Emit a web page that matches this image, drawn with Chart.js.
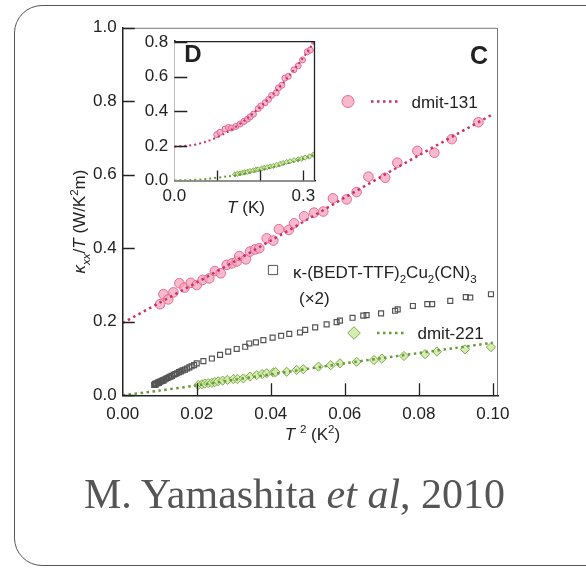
<!DOCTYPE html>
<html><head><meta charset="utf-8">
<script src="https://cdn.jsdelivr.net/npm/chart.js@4/dist/chart.umd.min.js"></script>
<style>
html,body{margin:0;padding:0;background:#fff;width:586px;height:569px;overflow:hidden;position:relative;}
#frame{position:absolute;left:14px;top:5px;width:640px;height:561px;border:1.5px solid #555;border-radius:28px;box-sizing:border-box;}
#main{position:absolute;left:0;top:0;}
#inset{position:absolute;left:120px;top:25px;}
#cap{position:absolute;left:0;width:589px;top:473px;text-align:center;font-family:"Liberation Serif","Times New Roman",serif;font-size:42px;line-height:42px;color:#555;white-space:nowrap;}
</style></head>
<body>
<div id="frame"></div>
<canvas id="main" width="586" height="569"></canvas>
<canvas id="inset" width="220" height="200"></canvas>
<div id="cap">M. Yamashita <i>et al</i>, 2010</div>
<script>
// ---------- tick labels ----------
const xTicksMain = [0, 0.02, 0.04, 0.06, 0.08, 0.10];
const yTicksMain = [0, 0.2, 0.4, 0.6, 0.8, 1.0];
const xTicksInset = [0, 0.1, 0.2, 0.3];
const xLabelsInset = ['0.0', '', '', '0.3'];
const yTicksInset = [0, 0.2, 0.4, 0.6, 0.8];

// ---------- main panel (C): kappa/T vs T^2 ----------
const t2_131 = [0.0101,0.0110,0.0123,0.0137,0.0153,0.0167,0.0184,0.0200,0.0216,0.0234,0.0249,0.0265,0.0281,0.0295,0.0308,0.0315,0.0333,0.0344,0.0358,0.0369,0.0389,0.0407,0.0422,0.0449,0.0463,0.0490,0.0517,0.0542,0.0568,0.0605,0.0632,0.0664,0.0709,0.0742,0.0796,0.0842,0.0889,0.0961];
const k_131  = [0.248,0.275,0.261,0.280,0.305,0.293,0.306,0.300,0.314,0.318,0.338,0.332,0.355,0.359,0.364,0.379,0.370,0.391,0.397,0.400,0.427,0.421,0.452,0.450,0.468,0.487,0.497,0.500,0.536,0.533,0.553,0.595,0.592,0.633,0.665,0.660,0.697,0.743];
const t2_fit131 = [0,0.01,0.02,0.03,0.04,0.05,0.06,0.07,0.08,0.09,0.10];
const k_fit131  = [0.197,0.252,0.307,0.363,0.421,0.479,0.538,0.596,0.653,0.709,0.765];

const t2_bedt = [0.0085,0.0087,0.0089,0.0091,0.0094,0.0096,0.0098,0.0100,0.0103,0.0106,0.0108,0.0110,0.0113,0.0117,0.0121,0.0125,0.0129,0.0133,0.0138,0.0142,0.0147,0.0152,0.0157,0.0162,0.0168,0.0174,0.0180,0.0186,0.0193,0.0200,0.0218,0.0241,0.0263,0.0285,0.0308,0.0331,0.0342,0.0360,0.0380,0.0405,0.0428,0.0450,0.0479,0.0493,0.0520,0.0551,0.0578,0.0587,0.0621,0.0650,0.0659,0.0698,0.0736,0.0743,0.0784,0.0823,0.0836,0.0885,0.0927,0.0939,0.0995];
const k_bedt  = [0.028,0.031,0.029,0.032,0.033,0.035,0.034,0.037,0.038,0.039,0.041,0.040,0.043,0.045,0.047,0.049,0.051,0.053,0.056,0.058,0.060,0.063,0.065,0.068,0.070,0.073,0.076,0.079,0.082,0.087,0.093,0.100,0.110,0.119,0.126,0.132,0.141,0.144,0.150,0.157,0.162,0.167,0.171,0.178,0.185,0.193,0.199,0.203,0.211,0.217,0.218,0.223,0.230,0.234,0.243,0.248,0.248,0.257,0.267,0.266,0.275];

const t2_221 = [0.0204,0.0214,0.0222,0.0231,0.0241,0.0249,0.0258,0.0270,0.0283,0.0299,0.0310,0.0326,0.0344,0.0362,0.0377,0.0389,0.0407,0.0413,0.0443,0.0470,0.0488,0.0529,0.0562,0.0587,0.0632,0.0679,0.0700,0.0760,0.0817,0.0849,0.0925,0.0995];
const k_221  = [0.028,0.030,0.032,0.033,0.034,0.036,0.038,0.040,0.042,0.044,0.044,0.046,0.051,0.055,0.058,0.060,0.062,0.063,0.064,0.069,0.071,0.078,0.082,0.087,0.091,0.096,0.100,0.107,0.112,0.119,0.125,0.131];
const t2_fit221 = [0,0.01,0.02,0.03,0.04,0.05,0.06,0.07,0.08,0.09,0.10];
const k_fit221  = [0,0.013,0.027,0.042,0.057,0.072,0.087,0.101,0.115,0.129,0.143];

// ---------- inset panel (D): kappa/T vs T ----------
const T_131in = [0.0986,0.106,0.118,0.126,0.133,0.143,0.153,0.162,0.170,0.176,0.184,0.195,0.201,0.211,0.219,0.226,0.237,0.242,0.250,0.257,0.265,0.278,0.288,0.298,0.309,0.316,0.325];
const k_131in = [0.265,0.278,0.297,0.306,0.303,0.312,0.326,0.341,0.354,0.367,0.383,0.415,0.430,0.449,0.468,0.491,0.506,0.534,0.550,0.591,0.601,0.639,0.662,0.696,0.743,0.753,0.802];
const T_fit131in = [0,0.05,0.10,0.15,0.20,0.25,0.30,0.325];
const k_fit131in = [0.195,0.208,0.250,0.322,0.425,0.555,0.710,0.800];

const T_221in = [0.141,0.147,0.153,0.159,0.164,0.170,0.176,0.184,0.190,0.195,0.203,0.209,0.216,0.223,0.230,0.238,0.246,0.253,0.261,0.269,0.278,0.288,0.296,0.304,0.314,0.323];
const k_221in = [0.035,0.039,0.041,0.045,0.047,0.050,0.054,0.058,0.062,0.064,0.069,0.073,0.077,0.081,0.084,0.090,0.096,0.101,0.107,0.111,0.117,0.122,0.126,0.132,0.138,0.149];
const T_fit221in = [0,0.05,0.10,0.15,0.20,0.25,0.30,0.325];
const k_fit221in = [0,0.004,0.016,0.034,0.060,0.090,0.126,0.148];

// ---------- styling ----------
const FAM = '"Liberation Sans", Arial, Helvetica, sans-serif';
Chart.defaults.font.family = FAM;
Chart.defaults.font.size = 17;
Chart.defaults.color = '#222';

const PINK_FILL = 'rgba(245,165,190,0.78)';
const PINK_EDGE = '#e56a91';
const PINK_LINE = '#c8306a';
const GREEN_FILL = 'rgba(208,234,170,0.9)';
const GREEN_EDGE = '#7fab4a';
const GREEN_LINE = '#6a9a3a';
const GRAY = '#555';

const zip = (xs, ys) => xs.map((x, i) => ({x, y: ys[i]}));

function drawRich(ctx, segs, x, y, size, align) {
  const parts = segs.map(([t, f]) => {
    f = f || {};
    const small = f.sub || f.sup;
    const s = small ? size * 0.68 : size;
    const font = (f.i ? 'italic ' : '') + (f.b ? 'bold ' : '') + s + 'px ' + FAM;
    ctx.font = font;
    return {t, font, w: ctx.measureText(t).width, dy: f.sub ? size * 0.3 : (f.sup ? -size * 0.4 : 0)};
  });
  const total = parts.reduce((a, p) => a + p.w, 0);
  let cx = align === 'center' ? x - total / 2 : x;
  ctx.textAlign = 'left';
  ctx.textBaseline = 'alphabetic';
  for (const p of parts) { ctx.font = p.font; ctx.fillText(p.t, cx, y + p.dy); cx += p.w; }
}

function dottedLine(ctx, color, x1, x2, y, w) {
  ctx.save();
  ctx.strokeStyle = color; ctx.lineWidth = w; ctx.setLineDash([2.5, 3.5]);
  ctx.beginPath(); ctx.moveTo(x1, y); ctx.lineTo(x2, y); ctx.stroke();
  ctx.restore();
}
function marker(ctx, style, r, fill, edge, x, y) {
  ctx.save();
  ctx.fillStyle = fill; ctx.strokeStyle = edge; ctx.lineWidth = 1;
  Chart.helpers.drawPoint(ctx, {pointStyle: style, radius: r, borderWidth: 1, rotation: 0}, x, y);
  ctx.restore();
}

// ---------- main chart ----------
const mainDecor = {
  id: 'mainDecor',
  afterDraw(chart) {
    const {ctx, chartArea: a, scales: {x, y}} = chart;
    ctx.save();
    // top/right frame
    ctx.strokeStyle = '#777'; ctx.lineWidth = 1;
    ctx.beginPath(); ctx.moveTo(a.left, a.top + 0.5); ctx.lineTo(a.right - 0.5, a.top + 0.5); ctx.lineTo(a.right - 0.5, a.bottom); ctx.stroke();
    // inward ticks
    ctx.strokeStyle = '#222'; ctx.lineWidth = 1.3;
    ctx.beginPath();
    yTicksMain.forEach(v => { const py = Math.round(y.getPixelForValue(v)) + 0.5; ctx.moveTo(a.left, py); ctx.lineTo(a.left + 12, py); });
    xTicksMain.forEach(v => { if (v === 0) return; const px = Math.round(x.getPixelForValue(v)) + 0.5; ctx.moveTo(px, a.bottom); ctx.lineTo(px, a.bottom - 12); });
    ctx.stroke();
    ctx.fillStyle = '#222';
    // y title
    ctx.save();
    ctx.translate(79, 221.5); ctx.rotate(-Math.PI / 2);
    drawRich(ctx, [['κ', {i: 1}], ['xx', {sub: 1, i: 1}], ['/'], ['T', {i: 1}], [' (W/K'], ['2', {sup: 1}], ['m)']], 0, 6, 17, 'center');
    ctx.restore();
    // x title
    drawRich(ctx, [['T ', {i: 1}], ['2', {sup: 1}], [' (K'], ['2', {sup: 1}], [')']], 312.5, 440, 17, 'center');
    // legend: dmit-131
    marker(ctx, 'circle', 6, PINK_FILL, PINK_EDGE, 348, 101.5);
    dottedLine(ctx, PINK_LINE, 371, 401, 101.5, 2.5);
    ctx.fillStyle = '#222';
    drawRich(ctx, [['dmit-131']], 411.5, 107.6, 17, 'left');
    // legend: BEDT
    marker(ctx, 'rect', 6.5, 'rgba(255,255,255,0)', GRAY, 273, 270);
    ctx.fillStyle = '#222';
    drawRich(ctx, [['κ-(BEDT-TTF)'], ['2', {sub: 1}], ['Cu'], ['2', {sub: 1}], ['(CN)'], ['3', {sub: 1}]], 293, 277.5, 17, 'left');
    drawRich(ctx, [['(×2)']], 299, 303.5, 17, 'left');
    // legend: dmit-221
    marker(ctx, 'rectRot', 6.3, GREEN_FILL, GREEN_EDGE, 354, 333);
    dottedLine(ctx, GREEN_LINE, 377, 405, 333, 2.5);
    ctx.fillStyle = '#222';
    drawRich(ctx, [['dmit-221']], 417.5, 339, 17, 'left');
    // panel letter
    drawRich(ctx, [['C', {b: 1}]], 479, 64, 25, 'center');
    ctx.restore();
  }
};

new Chart(document.getElementById('main'), {
  type: 'scatter',
  data: {
    datasets: [
      {label: 'dmit-131 fit', data: zip(t2_fit131, k_fit131), showLine: true, pointRadius: 0, borderColor: PINK_LINE, borderWidth: 2.5, borderDash: [2.5, 3.5], tension: 0.3},
      {label: 'dmit-131', data: zip(t2_131, k_131), pointStyle: 'circle', pointRadius: 4.8, backgroundColor: PINK_FILL, borderColor: PINK_EDGE, borderWidth: 1},
      {label: 'dmit-221 fit', data: zip(t2_fit221, k_fit221), showLine: true, pointRadius: 0, borderColor: GREEN_LINE, borderWidth: 2.5, borderDash: [2.5, 3.5], tension: 0.3},
      {label: 'dmit-221', data: zip(t2_221, k_221), pointStyle: 'rectRot', pointRadius: 4.6, backgroundColor: GREEN_FILL, borderColor: GREEN_EDGE, borderWidth: 1},
      {label: 'BEDT', data: zip(t2_bedt, k_bedt), pointStyle: 'rect', pointRadius: 3.5, backgroundColor: 'rgba(255,255,255,0)', borderColor: GRAY, borderWidth: 1.2}
    ]
  },
  options: {
    responsive: false, animation: false, devicePixelRatio: 1,
    layout: {padding: {left: 0, top: 27.8, right: 88, bottom: 113.7}},
    plugins: {legend: {display: false}, tooltip: {enabled: false}},
    scales: {
      x: {
        type: 'linear', min: 0, max: 0.1014,
        afterBuildTicks: s => { s.ticks = xTicksMain.map(v => ({value: v})); },
        afterFit: s => { s.height = 60; },
        grid: {display: false, drawTicks: false},
        border: {display: true, color: '#222', width: 1.5},
        ticks: {padding: 8.5, color: '#222', callback: (v, i) => xTicksMain[i].toFixed(2)}
      },
      y: {
        type: 'linear', min: 0, max: 1.0,
        afterBuildTicks: s => { s.ticks = yTicksMain.map(v => ({value: v})); },
        afterFit: s => { s.width = 122.7; },
        grid: {display: false, drawTicks: false},
        border: {display: true, color: '#222', width: 1.5},
        ticks: {padding: 6, color: '#222', callback: (v, i) => yTicksMain[i].toFixed(1)}
      }
    }
  },
  plugins: [mainDecor]
});

// ---------- inset chart ----------
const insetDecor = {
  id: 'insetDecor',
  beforeDatasetsDraw(chart) {
    const {ctx, chartArea: a} = chart;
    ctx.save(); ctx.fillStyle = '#fff'; ctx.fillRect(a.left, a.top, a.right - a.left, a.bottom - a.top); ctx.restore();
  },
  afterDraw(chart) {
    const {ctx, chartArea: a, scales: {x, y}} = chart;
    ctx.save();
    ctx.strokeStyle = '#222'; ctx.lineWidth = 1.3;
    ctx.beginPath(); ctx.moveTo(a.left, a.top + 0.5); ctx.lineTo(a.right - 0.5, a.top + 0.5); ctx.lineTo(a.right - 0.5, a.bottom); ctx.stroke();
    ctx.beginPath();
    yTicksInset.forEach(v => { if (v === 0) return; const py = Math.round(y.getPixelForValue(v)) + 0.5; ctx.moveTo(a.left, py); ctx.lineTo(a.left + 13, py); });
    xTicksInset.forEach(v => { if (v === 0) return; const px = Math.round(x.getPixelForValue(v)) + 0.5; ctx.moveTo(px, a.bottom); ctx.lineTo(px, a.bottom - 10); });
    ctx.stroke();
    ctx.fillStyle = '#222';
    drawRich(ctx, [['T', {i: 1}], [' (K)']], 126, 187.8, 17, 'center');
    drawRich(ctx, [['D', {b: 1}]], 73, 37, 24, 'center');
    ctx.restore();
  }
};

new Chart(document.getElementById('inset'), {
  type: 'scatter',
  data: {
    datasets: [
      {label: 'fit131', data: zip(T_fit131in, k_fit131in), showLine: true, pointRadius: 0, borderColor: PINK_LINE, borderWidth: 2, borderDash: [2, 3], tension: 0.35},
      {label: 'dmit-131', data: zip(T_131in, k_131in), pointStyle: 'circle', pointRadius: 3, backgroundColor: PINK_FILL, borderColor: PINK_EDGE, borderWidth: 1},
      {label: 'fit221', data: zip(T_fit221in, k_fit221in), showLine: true, pointRadius: 0, borderColor: GREEN_LINE, borderWidth: 2, borderDash: [2, 3], tension: 0.35},
      {label: 'dmit-221', data: zip(T_221in, k_221in), pointStyle: 'rectRot', pointRadius: 2.6, backgroundColor: GREEN_FILL, borderColor: GREEN_EDGE, borderWidth: 1}
    ]
  },
  options: {
    responsive: false, animation: false, devicePixelRatio: 1,
    layout: {padding: {left: 0, top: 14.3, right: 25, bottom: 14.5}},
    plugins: {legend: {display: false}, tooltip: {enabled: false}},
    scales: {
      x: {
        type: 'linear', min: 0, max: 0.327,
        afterBuildTicks: s => { s.ticks = xTicksInset.map(v => ({value: v})); },
        afterFit: s => { s.height = 30; },
        grid: {display: false, drawTicks: false},
        border: {display: true, color: '#222', width: 1.5},
        ticks: {padding: 6, color: '#222', callback: (v, i) => xLabelsInset[i]}
      },
      y: {
        type: 'linear', min: 0, max: 0.804,
        afterBuildTicks: s => { s.ticks = yTicksInset.map(v => ({value: v})); },
        afterFit: s => { s.width = 54.3; },
        grid: {display: false, drawTicks: false},
        border: {display: true, color: '#222', width: 1.5},
        ticks: {padding: 6, color: '#222', callback: (v, i) => yTicksInset[i].toFixed(1)}
      }
    }
  },
  plugins: [insetDecor]
});
</script>
</body></html>
